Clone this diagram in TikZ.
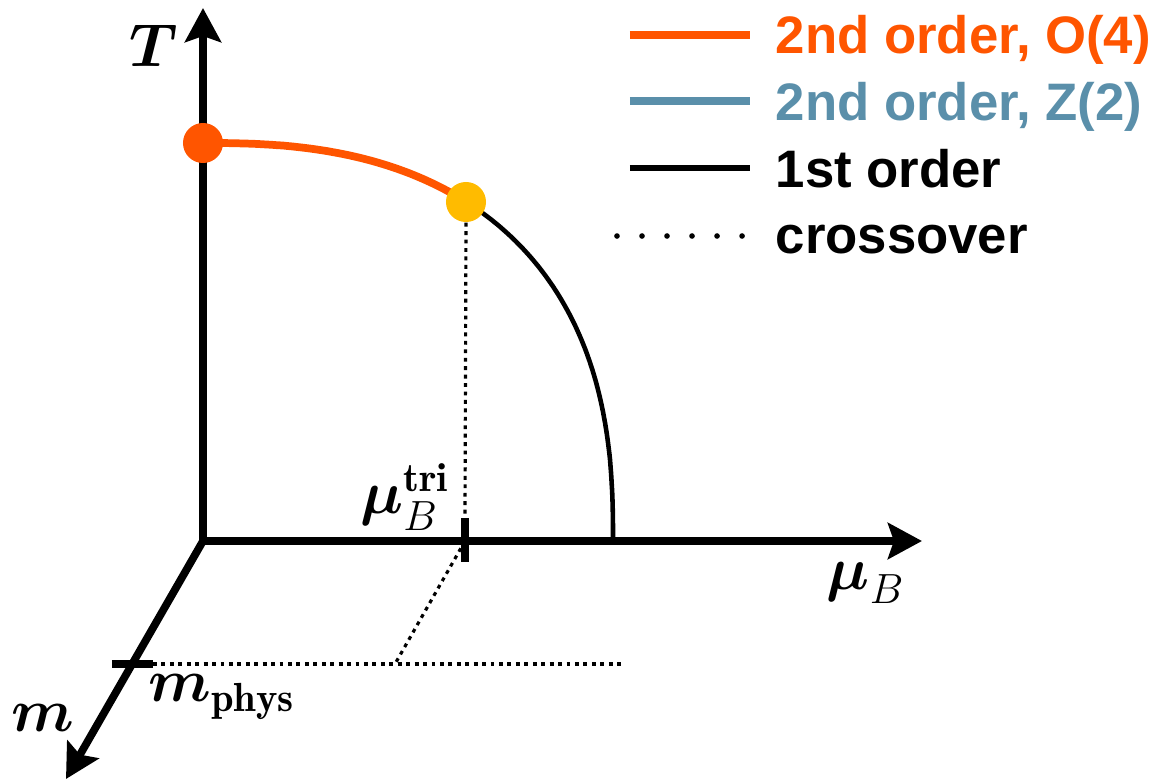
\documentclass[tikz,border=0pt]{standalone}
\usepackage{amsmath}
\usepackage{fontspec}
\setsansfont{Liberation Sans}
\usetikzlibrary{arrows.meta}
\definecolor{orng}{HTML}{FF5500}
\definecolor{yllw}{HTML}{FFBB00}
\definecolor{blu}{HTML}{5A8FAA}
\begin{document}
\begin{tikzpicture}[x=0.01cm,y=-0.01cm,
  axis/.style={line width=2.2pt,-{Stealth[length=0.34cm,width=0.36cm,inset=0.06cm]}},
  dotln/.style={line width=0.9pt,dash pattern=on 1.1pt off 1.3pt},
  mlab/.style={inner sep=0pt,font=\fontsize{16.5}{20}\selectfont},
  leg/.style={anchor=base west,inner sep=0pt,font=\sffamily\bfseries\fontsize{15}{18}\selectfont},
  dotnode/.style={circle,inner sep=0pt,minimum size=0.4cm}]
\useasboundingbox (0,0) rectangle (1162,781);
% axes
\coordinate (O) at (203,541);
\coordinate (Tbase) at (203,544);
\coordinate (Ttip) at (203,8);
\coordinate (Btip) at (922,541);
\coordinate (Mtip) at (66,779);
\draw[axis] (Tbase) -- (Ttip);
\draw[axis] (O) -- (Btip);
\draw[axis] (O) -- (Mtip);
% ticks
\coordinate (tri) at (465,541);
\coordinate (triT) at (465,518);
\coordinate (triB) at (465,562);
\draw[line width=2pt] (triT) -- (triB);
\coordinate (mp) at (133,664);
\coordinate (mpL) at (112,664);
\coordinate (mpR) at (153,664);
\draw[line width=2pt] (mpL) -- (mpR);
% dotted guides
\coordinate (corner) at (395,664);
\coordinate (hend) at (622,664);
\draw[dotln] (mpR) -- (hend);
\draw[dotln] (tri) -- (corner);
% phase boundary
\draw[orng,line width=2.2pt] (203,143) -- plot[domain=89.8:55,samples=60] ({203+410*(cos(\x))^0.8},{541-398*(sin(\x))^0.8});
\draw[black,line width=1.3pt] plot[domain=55:0.2,samples=80] ({203+410*(cos(\x))^0.8},{541-398*(sin(\x))^0.8}) -- (613,541);
\node[dotnode,fill=orng] (cp) at (203,143) {};
\node[dotnode,fill=yllw] (tcp) at (466,202) {};
\draw[dotln] (tcp.south) -- (triT);
% labels
\node[mlab] (Tl) at (154,46) {$\boldsymbol{T}$};
\node[mlab] (mul) at (866,583) {$\boldsymbol{\mu}_B$};
\node[mlab] (mutri) at (405,497) {$\boldsymbol{\mu}_B^{\mathbf{tri}}$};
\node[mlab] (ml) at (43,718) {$\boldsymbol{m}$};
\node[mlab] (mphys) at (222,697) {$\boldsymbol{m}_{\mathbf{phys}}$};
% legend
\coordinate (l1a) at (630,35); \coordinate (l1b) at (750,35);
\coordinate (l2a) at (630,101); \coordinate (l2b) at (750,101);
\coordinate (l3a) at (630,168); \coordinate (l3b) at (750,168);
\coordinate (l4a) at (617,236); \coordinate (l4b) at (743,236);
\draw[orng,line width=2.3pt] (l1a) -- (l1b);
\draw[blu,line width=2.3pt] (l2a) -- (l2b);
\draw[black,line width=1.6pt] (l3a) -- (l3b);
\draw[black,line width=1.6pt,line cap=round,dash pattern=on 0pt off 0.25cm] (l4a) -- (l4b);
\node[leg,text=orng] (t1) at (775,53) {2nd order, O(4)};
\node[leg,text=blu] (t2) at (775,120) {2nd order, Z(2)};
\node[leg] (t3) at (775,187) {1st order};
\node[leg] (t4) at (775,253) {crossover};
\end{tikzpicture}
\end{document}
